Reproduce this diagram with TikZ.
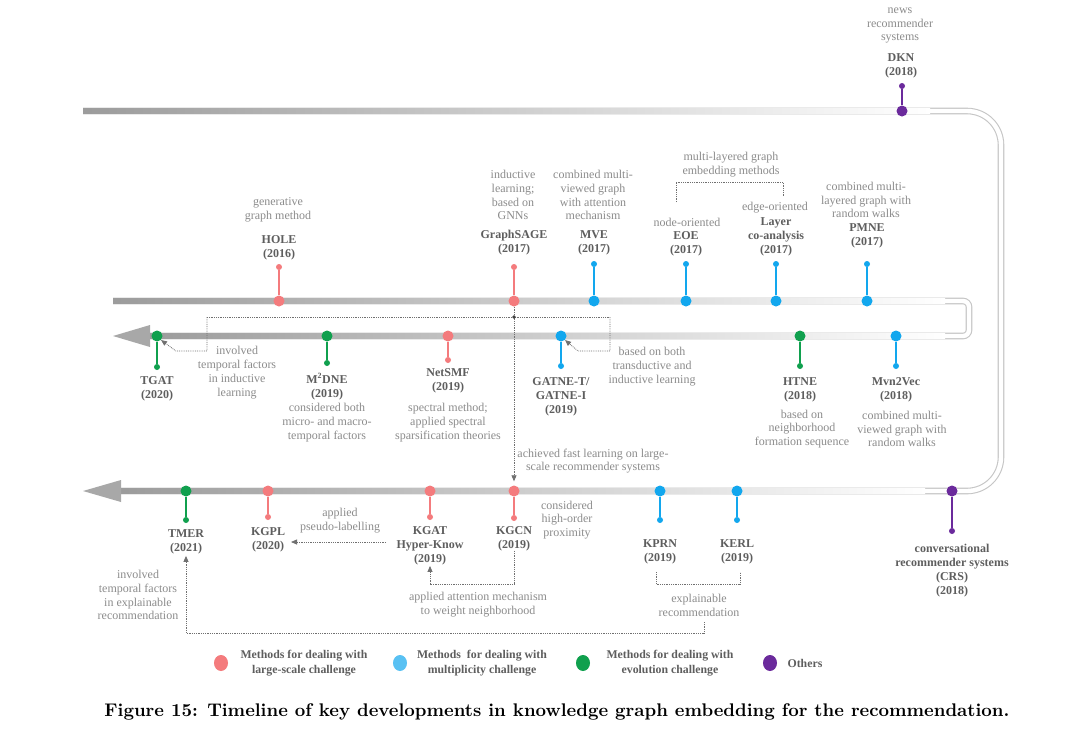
\documentclass[tikz,border=0pt]{standalone}
\usepackage{fontspec}
\usepackage{graphicx}
\newfontfamily\tm{Liberation Serif}
\usetikzlibrary{arrows.meta,shapes.geometric}
\definecolor{cred}{HTML}{F47B7D}
\definecolor{cblue}{HTML}{12A7EE}
\definecolor{cgreen}{HTML}{10A04E}
\definecolor{cpurple}{HTML}{6B2A9C}
\definecolor{labc}{HTML}{5E5E5E}
\definecolor{annc}{HTML}{8C8C8C}
\definecolor{dotcol}{HTML}{707070}
\begin{document}
\begin{tikzpicture}[x=1pt,y=-1pt,
 big/.style={circle,inner sep=0pt,minimum size=11pt},
 small/.style={circle,inner sep=0pt,minimum size=6pt},
 stem/.style={line width=1.8pt},
 lab/.style={font=\tm\bfseries\fontsize{12}{14}\selectfont,text=labc,align=center,inner sep=0pt},
 ann/.style={font=\tm\fontsize{12}{13.8}\selectfont,text=annc,align=center,inner sep=0pt},
 leg/.style={font=\tm\bfseries\fontsize{11.8}{15}\selectfont,text=labc,align=center,inner sep=0pt},
 legdot/.style={ellipse,inner sep=0pt,minimum width=14pt,minimum height=16pt},
 pipe/.style={draw=gray!45,double=white,double distance=4.4pt,line width=1.1pt},
 dline/.style={draw=dotcol,densely dotted,line width=0.8pt},
 darr/.style={dline,-{Triangle[length=6pt,width=5pt]}},
 trackshade/.style={left color=gray!78,right color=white}
]
\fill[white] (0,0) rectangle (1080,740);
\useasboundingbox (0,0) rectangle (1080,740);

% tracks
\draw[pipe,rounded corners=34pt] (83,111) -- (1001,111) -- (1001,491) -- (121,491);
\draw[pipe,rounded corners=6pt] (113,301) -- (969,301) -- (969,336) -- (149,336);
\shade[trackshade] (83,108.7) rectangle (930,113.3);
\shade[trackshade] (113,298.7) rectangle (945,303.3);
\shade[trackshade] (149,333.7) rectangle (945,338.3);
\shade[trackshade] (121,488.7) rectangle (925,493.3);
\fill[gray!68] (113,336) -- (150,325) -- (150,347) -- cycle;
\fill[gray!68] (83,491) -- (121,480) -- (121,502) -- cycle;

% dotted connectors (middle)
\coordinate (j) at (514,317);
\coordinate (jl) at (207,317);
\coordinate (jr) at (610,317);
\coordinate (tl1) at (207,351);
\coordinate (tl2) at (176,351);
\coordinate (tr1) at (610,351);
\coordinate (tr2) at (578,351);
\draw[dline] (jl) -- (jr);

% nodes on tracks
\foreach \n/\x/\y/\s/\c in {
 hole/279/301/267/cred, gsage/514/301/267/cred, mve/594/301/264/cblue, eoe/686/301/264/cblue, layer/776/301/264/cblue, pmne/867/301/264/cblue,
 tgat/157/336/367/cgreen, mdne/327/336/363/cgreen, netsmf/448/336/360/cred, gatne/561/336/366/cblue, htne/800/336/366/cgreen, mvn/896/336/366/cblue,
 tmer/186/491/520/cgreen, kgpl/268/491/517/cred, kgat/430/491/517/cred, kgcn/514/491/518/cred, kprn/660/491/520/cblue, kerl/737/491/520/cblue, crs/952/491/531/cpurple,
 dkn/902/111/86/cpurple}
{
  \node[big,fill=\c] (\n) at (\x,\y) {};
  \node[small,fill=\c] (\n s) at (\x,\s) {};
  \draw[stem,\c] (\n) -- (\n s);
}

\draw[darr] (jl) -- (tl1) -- (tl2) -- (tgat.south east);
\draw[darr] (jr) -- (tr1) -- (tr2) -- (gatne.south east);
\draw[darr,shorten >=4pt] (gsage.south) -- (kgcn.north);
\fill[black!75] (j) circle (1.8pt);

% labels upper
\node[ann] (dkna) at (900,25.5) {news\\recommender\\systems};
\node[lab] (dknl) at (901,66) {DKN\\(2018)};
\node[lab] (holel) at (279,248) {HOLE\\(2016)};
\node[ann] (holea) at (278,210) {generative\\graph method};
\node[lab] (gsagel) at (514,243) {GraphSAGE\\(2017)};
\node[ann] (gsagea) at (513,195) {inductive\\learning;\\based on\\GNNs};
\node[lab] (mvel) at (594,243) {MVE\\(2017)};
\node[ann] (mvea) at (593,195) {combined multi-\\viewed graph\\with attention\\mechanism};
\node[lab] (eoel) at (686,244) {EOE\\(2017)};
\node[ann] (eoea) at (687,222) {node-oriented};
\node[lab] (layerl) at (776,236.5) {Layer\\co-analysis\\(2017)};
\node[ann] (layera) at (775,208) {edge-oriented};
\node[lab] (pmnel) at (867,236) {PMNE\\(2017)};
\node[ann] (pmnea) at (866,200) {combined multi-\\layered graph with\\random walks};
\node[ann] (mla) at (731,164.5) {multi-layered graph\\embedding methods};
\coordinate (mb1) at (676,202);
\coordinate (mb2) at (676,182);
\coordinate (mb3) at (783,182);
\coordinate (mb4) at (783,196);
\draw[dline] (mb1) -- (mb2) -- (mb3) -- (mb4);

% labels middle
\node[lab] (tgatl) at (157,388.5) {TGAT\\(2020)};
\node[ann] (tgata) at (237,372.5) {involved\\temporal factors\\in inductive\\learning};
\node[lab] (mdnel) at (327,386.5) {M\textsuperscript{2}DNE\\(2019)};
\node[ann] (mdnea) at (327,422.5) {considered both\\micro- and macro-\\temporal factors};
\node[lab] (netsmfl) at (448,380.5) {NetSMF\\(2019)};
\node[ann] (netsmfa) at (448,422.5) {spectral method;\\applied spectral\\sparsification theories};
\node[lab] (gatnel) at (561,396.5) {GATNE-T/\\GATNE-I\\(2019)};
\node[ann] (gatnea) at (652,366.5) {based on both\\transductive and\\inductive learning};
\node[lab] (htnel) at (800,389.5) {HTNE\\(2018)};
\node[ann] (htnea) at (802,429) {based on\\neighborhood\\formation sequence};
\node[lab] (mvnl) at (896,389.5) {Mvn2Vec\\(2018)};
\node[ann] (mvna) at (902,429) {combined multi-\\viewed graph with\\random walks};
\node[ann] (fasta) at (593,461) {achieved fast learning on large-\\scale recommender systems};

% labels bottom
\node[lab] (tmerl) at (186,541.5) {TMER\\(2021)};
\node[ann] (tmera) at (138,595) {involved\\temporal factors\\in explainable\\recommendation};
\node[lab] (kgpll) at (268,539.5) {KGPL\\(2020)};
\node[ann] (kgpla) at (340,520.5) {applied\\pseudo-labelling};
\node[lab] (kgatl) at (430,545.5) {KGAT\\Hyper-Know\\(2019)};
\node[lab] (kgcnl) at (514,538.5) {KGCN\\(2019)};
\node[ann] (kgcna) at (567,520) {considered\\high-order\\proximity};
\node[ann] (atta) at (478,605) {applied attention mechanism\\to weight neighborhood};
\node[lab] (kprnl) at (660,552) {KPRN\\(2019)};
\node[lab] (kerll) at (737,552) {KERL\\(2019)};
\node[ann] (expa) at (699,605) {explainable\\recommendation};
\node[lab] (crsl) at (952,571) {conversational\\recommender systems\\(CRS)\\(2018)};

% dotted connectors (bottom)
\coordinate (pa) at (386,542);
\coordinate (pb) at (291,542);
\draw[darr] (pa) -- (pb);
\coordinate (ka2) at (514,584);
\coordinate (ka3) at (430,584);
\draw[darr,shorten >=1pt] (kgcnl.south) -- (ka2) -- (ka3) -- (kgatl.south);
\coordinate (eb1) at (656,572);
\coordinate (eb2) at (656,584);
\coordinate (eb3) at (740,584);
\coordinate (eb4) at (740,572);
\draw[dline] (eb1) -- (eb2) -- (eb3) -- (eb4);
\coordinate (lg1) at (704,622);
\coordinate (lg2) at (704,633);
\coordinate (lg3) at (186,633);
\draw[darr,shorten >=2pt] (lg1) -- (lg2) -- (lg3) -- (tmerl.south);

% legend
\node[legdot,fill=cred] (lgr) at (221,663) {};
\node[leg] (lgrt) at (304,663) {Methods for dealing with\\large-scale challenge};
\node[legdot,fill=cblue!70] (lgb) at (400,663) {};
\node[leg] (lgbt) at (482,663) {Methods~ for dealing with\\multiplicity challenge};
\node[legdot,fill=cgreen] (lgg) at (583,663) {};
\node[leg] (lggt) at (670,663) {Methods for dealing with\\evolution challenge};
\node[legdot,fill=cpurple] (lgp) at (770,663) {};
\node[leg] (lgpt) at (805,663) {Others};

% caption
\node[inner sep=0pt] (cap) at (557,712) {\resizebox{905pt}{!}{\bfseries Figure 15: Timeline of key developments in knowledge graph embedding for the recommendation.}};
\end{tikzpicture}
\end{document}
